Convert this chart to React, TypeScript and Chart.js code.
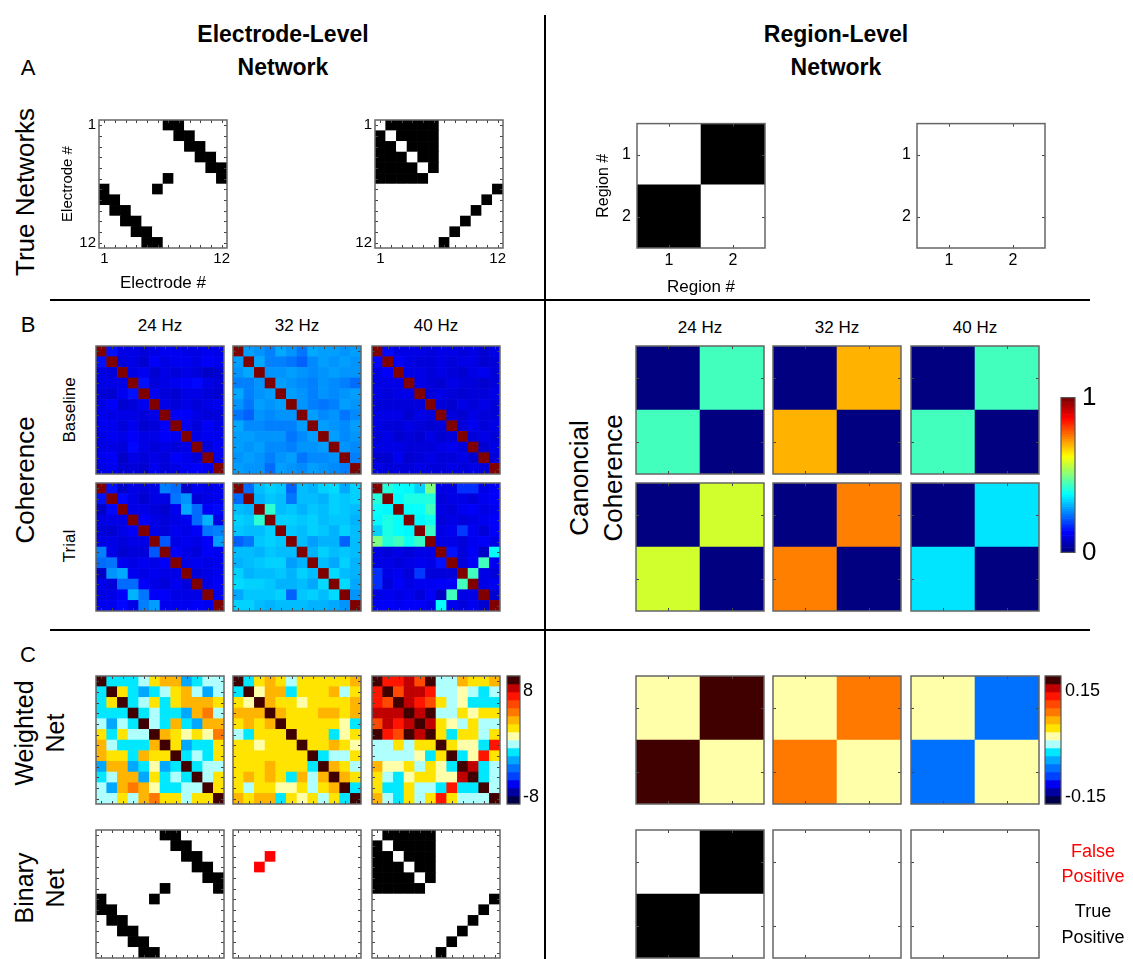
import React, { useEffect, useRef } from "react";
import { Chart, registerables } from "chart.js";

Chart.register(...registerables);

const FONT = '"Liberation Sans", Arial, Helvetica, sans-serif';
Chart.defaults.font.family = FONT;
Chart.defaults.color = "#000";

// ================= DATA =================
const FREQ_LABELS = ["24 Hz", "32 Hz", "40 Hz"];
const ELECTRODE_TICKS = [{ v: 0, t: "1" }, { v: 11, t: "12" }];
const REGION_TICKS = [{ v: 0, t: "1" }, { v: 1, t: "2" }];

// True electrode-level networks (1 = edge)
const TRUE_NET_1 = [
  [0, 0, 0, 0, 0, 0, 1, 1, 0, 0, 0, 0],
  [0, 0, 0, 0, 0, 0, 0, 1, 1, 0, 0, 0],
  [0, 0, 0, 0, 0, 0, 0, 0, 1, 1, 0, 0],
  [0, 0, 0, 0, 0, 0, 0, 0, 0, 1, 1, 0],
  [0, 0, 0, 0, 0, 0, 0, 0, 0, 0, 1, 1],
  [0, 0, 0, 0, 0, 0, 1, 0, 0, 0, 0, 1],
  [1, 0, 0, 0, 0, 1, 0, 0, 0, 0, 0, 0],
  [1, 1, 0, 0, 0, 0, 0, 0, 0, 0, 0, 0],
  [0, 1, 1, 0, 0, 0, 0, 0, 0, 0, 0, 0],
  [0, 0, 1, 1, 0, 0, 0, 0, 0, 0, 0, 0],
  [0, 0, 0, 1, 1, 0, 0, 0, 0, 0, 0, 0],
  [0, 0, 0, 0, 1, 1, 0, 0, 0, 0, 0, 0],
];
const TRUE_NET_2 = [
  [0, 1, 1, 1, 1, 1, 0, 0, 0, 0, 0, 0],
  [1, 0, 1, 1, 1, 1, 0, 0, 0, 0, 0, 0],
  [1, 1, 0, 1, 1, 1, 0, 0, 0, 0, 0, 0],
  [1, 1, 1, 0, 1, 1, 0, 0, 0, 0, 0, 0],
  [1, 1, 1, 1, 0, 1, 0, 0, 0, 0, 0, 0],
  [1, 1, 1, 1, 1, 0, 0, 0, 0, 0, 0, 0],
  [0, 0, 0, 0, 0, 0, 0, 0, 0, 0, 0, 1],
  [0, 0, 0, 0, 0, 0, 0, 0, 0, 0, 1, 0],
  [0, 0, 0, 0, 0, 0, 0, 0, 0, 1, 0, 0],
  [0, 0, 0, 0, 0, 0, 0, 0, 1, 0, 0, 0],
  [0, 0, 0, 0, 0, 0, 0, 1, 0, 0, 0, 0],
  [0, 0, 0, 0, 0, 0, 1, 0, 0, 0, 0, 0],
];
const TRUE_REGION_1 = [[0, 1], [1, 0]];
const TRUE_REGION_2 = [[0, 0], [0, 0]];

// Binary nets (1 = true positive, 2 = false positive)
const BIN_NET_24 = TRUE_NET_1.map((r) => r.slice());
const BIN_NET_32 = [
  [0, 0, 0, 0, 0, 0, 0, 0, 0, 0, 0, 0],
  [0, 0, 0, 0, 0, 0, 0, 0, 0, 0, 0, 0],
  [0, 0, 0, 2, 0, 0, 0, 0, 0, 0, 0, 0],
  [0, 0, 2, 0, 0, 0, 0, 0, 0, 0, 0, 0],
  [0, 0, 0, 0, 0, 0, 0, 0, 0, 0, 0, 0],
  [0, 0, 0, 0, 0, 0, 0, 0, 0, 0, 0, 0],
  [0, 0, 0, 0, 0, 0, 0, 0, 0, 0, 0, 0],
  [0, 0, 0, 0, 0, 0, 0, 0, 0, 0, 0, 0],
  [0, 0, 0, 0, 0, 0, 0, 0, 0, 0, 0, 0],
  [0, 0, 0, 0, 0, 0, 0, 0, 0, 0, 0, 0],
  [0, 0, 0, 0, 0, 0, 0, 0, 0, 0, 0, 0],
  [0, 0, 0, 0, 0, 0, 0, 0, 0, 0, 0, 0],
];
const BIN_NET_40 = TRUE_NET_2.map((r) => r.slice());
const BIN_REGION = [[[0, 1], [1, 0]], [[0, 0], [0, 0]], [[0, 0], [0, 0]]];

// Coherence (upper triangles, row i lists columns i+1..11); diagonal = 1
const COH_BASE_24 = [
  [0.14, 0.1, 0.1, 0.09, 0.1, 0.11, 0.11, 0.1, 0.1, 0.11, 0.1],
  [0.09, 0.1, 0.08, 0.12, 0.1, 0.11, 0.11, 0.1, 0.12, 0.11],
  [0.1, 0.11, 0.08, 0.1, 0.09, 0.1, 0.09, 0.07, 0.08],
  [0.14, 0.09, 0.1, 0.11, 0.12, 0.13, 0.1, 0.09],
  [0.11, 0.09, 0.08, 0.1, 0.1, 0.09, 0.08],
  [0.1, 0.09, 0.1, 0.09, 0.1, 0.11],
  [0.12, 0.12, 0.1, 0.09, 0.09],
  [0.11, 0.09, 0.12, 0.1],
  [0.1, 0.11, 0.11],
  [0.09, 0.12],
  [0.11],
];
const COH_BASE_32 = [
  [0.28, 0.27, 0.25, 0.29, 0.27, 0.24, 0.29, 0.28, 0.28, 0.27, 0.28],
  [0.29, 0.25, 0.25, 0.24, 0.22, 0.26, 0.28, 0.27, 0.28, 0.27],
  [0.27, 0.27, 0.28, 0.27, 0.26, 0.27, 0.28, 0.27, 0.27],
  [0.28, 0.27, 0.26, 0.25, 0.27, 0.26, 0.25, 0.23],
  [0.28, 0.27, 0.25, 0.27, 0.26, 0.27, 0.28],
  [0.27, 0.25, 0.24, 0.25, 0.28, 0.27],
  [0.28, 0.26, 0.27, 0.24, 0.26],
  [0.28, 0.27, 0.26, 0.28],
  [0.28, 0.26, 0.27],
  [0.27, 0.26],
  [0.25],
];
const COH_BASE_40 = [
  [0.13, 0.1, 0.1, 0.1, 0.09, 0.1, 0.1, 0.09, 0.1, 0.08, 0.1],
  [0.12, 0.1, 0.09, 0.09, 0.1, 0.09, 0.1, 0.1, 0.08, 0.09],
  [0.1, 0.1, 0.09, 0.1, 0.09, 0.08, 0.1, 0.11, 0.09],
  [0.1, 0.09, 0.08, 0.1, 0.09, 0.09, 0.08, 0.09],
  [0.09, 0.1, 0.09, 0.08, 0.09, 0.09, 0.1],
  [0.09, 0.08, 0.1, 0.09, 0.1, 0.09],
  [0.09, 0.08, 0.1, 0.09, 0.09],
  [0.09, 0.11, 0.09, 0.1],
  [0.09, 0.1, 0.09],
  [0.08, 0.1],
  [0.09],
];
const COH_TRIAL_24 = [
  [0.14, 0.07, 0.1, 0.09, 0.1, 0.25, 0.23, 0.07, 0.11, 0.1, 0.11],
  [0.13, 0.1, 0.08, 0.1, 0.1, 0.24, 0.27, 0.09, 0.1, 0.11],
  [0.1, 0.1, 0.09, 0.08, 0.11, 0.29, 0.23, 0.12, 0.13],
  [0.12, 0.1, 0.09, 0.1, 0.11, 0.23, 0.3, 0.1],
  [0.1, 0.09, 0.11, 0.1, 0.12, 0.24, 0.25],
  [0.21, 0.1, 0.11, 0.1, 0.12, 0.28],
  [0.12, 0.1, 0.09, 0.12, 0.11],
  [0.1, 0.11, 0.1, 0.11],
  [0.09, 0.1, 0.11],
  [0.1, 0.12],
  [0.11],
];
const COH_TRIAL_32 = [
  [0.23, 0.31, 0.33, 0.32, 0.22, 0.31, 0.3, 0.33, 0.34, 0.29, 0.33],
  [0.3, 0.32, 0.31, 0.24, 0.31, 0.31, 0.3, 0.33, 0.32, 0.33],
  [0.42, 0.31, 0.32, 0.3, 0.32, 0.31, 0.33, 0.32, 0.31],
  [0.33, 0.33, 0.32, 0.33, 0.31, 0.32, 0.32, 0.3],
  [0.32, 0.31, 0.33, 0.32, 0.3, 0.33, 0.31],
  [0.31, 0.28, 0.3, 0.3, 0.22, 0.31],
  [0.3, 0.33, 0.31, 0.32, 0.31],
  [0.31, 0.29, 0.33, 0.3],
  [0.34, 0.31, 0.3],
  [0.34, 0.29],
  [0.27],
];
const COH_TRIAL_40 = [
  [0.41, 0.38, 0.37, 0.33, 0.5, 0.1, 0.1, 0.17, 0.17, 0.1, 0.12],
  [0.37, 0.4, 0.4, 0.41, 0.09, 0.1, 0.1, 0.09, 0.11, 0.12],
  [0.38, 0.38, 0.44, 0.1, 0.09, 0.11, 0.12, 0.1, 0.11],
  [0.37, 0.39, 0.09, 0.1, 0.09, 0.1, 0.11, 0.12],
  [0.43, 0.1, 0.11, 0.18, 0.11, 0.09, 0.12],
  [0.1, 0.1, 0.09, 0.11, 0.12, 0.1],
  [0.14, 0.09, 0.12, 0.07, 0.38],
  [0.09, 0.12, 0.44, 0.11],
  [0.44, 0.1, 0.09],
  [0.1, 0.11],
  [0.08],
];

// Weighted electrode nets (upper triangles), diagonal = 8
const W_NET_24 = [
  [-1.5, -1.5, -1.5, -0.5, 1.5, 2.5, 2.5, -2.5, -1.5, -0.5, -0.5],
  [1.5, -1.5, -2.5, -1.5, -0.5, 1.5, 2.5, -0.5, -2.5, -0.5],
  [-1.5, -0.5, 1.5, -1.5, 1.5, 2.5, 2.5, 2.2, 1.5],
  [-1.5, -0.5, -1.5, -1.5, -2.5, 2.5, 3.5, -0.5],
  [-0.5, -1.5, 2.2, -1.5, -2.5, 2.5, 2.5],
  [2.5, 1.5, 0.5, 1.5, 0.5, 3.5],
  [1.5, -2.5, -1.5, -1.5, 1.5],
  [-1.5, -0.5, -1.5, 1.5],
  [-1.5, -0.5, -0.5],
  [-0.5, 1.5],
  [1.5],
];
const W_NET_32 = [
  [-1.5, 1.5, 2.2, 1.5, -0.5, 1.5, 1.5, 1.6, 1.5, 1.5, 2.2],
  [0.5, 2.5, 2.5, -1.5, 1.5, 1.5, 1.5, 2.5, -0.5, 1.5],
  [2.5, 1.5, 1.5, 0.5, 1.5, 1.5, 1.5, 1.5, 2.2],
  [2.5, 1.5, 1.5, 1.5, 2.2, 2.5, 1.5, 2.2],
  [1.5, 1.5, 1.5, 1.5, 1.5, 0.5, -1.5],
  [1.5, 1.5, 1.5, -1.5, 0.5, 1.5],
  [1.5, 1.5, 2.5, 1.5, 0.5],
  [-1.5, -0.5, -0.5, 1.5],
  [2.5, 1.5, -0.5],
  [2.5, 1.5],
  [-1.5],
];
const W_NET_40 = [
  [5.5, 5.5, 6.5, 4.5, 7.5, -0.5, -0.5, 2.5, 1.5, 1.5, 2.5],
  [4.5, 6.5, 6.5, 5.5, -0.5, -0.5, 0.5, -0.5, -1.5, -0.5],
  [6.5, 5.5, 4.5, 1.5, -0.5, 0.5, -1.5, -1.5, -1.5],
  [6.5, 7.5, -0.5, -0.5, 1.5, 0.5, 1.5, 1.5],
  [6.5, 1.5, 0.5, -0.5, 1.5, -0.5, -0.5],
  [1.5, -1.5, 1.5, 1.5, -0.5, 1.5],
  [1.5, 0.5, 0.5, -1.5, 5.5],
  [-1.5, 0.5, 5.5, 1.5],
  [6.5, -1.5, -0.5],
  [-1.5, -0.5],
  [-0.5],
];

// Region-level values (off-diagonal) for 24/32/40 Hz
const REG_COH_BASE = [0.44, 0.7, 0.44];
const REG_COH_TRIAL = [0.58, 0.75, 0.35];
const REG_WEIGHTED = [0.15, 0.065, -0.065];

// colour-bar ticks / ranges
const COH_RANGE = [0, 1];
const COH_CB_TICKS = [{ v: 0, t: "0" }, { v: 1, t: "1" }];
const W_EL_RANGE = [-9.1, 10.3];
const W_EL_CB_TICKS = [{ v: -8, t: "-8" }, { v: 8, t: "8" }];
const W_REG_RANGE = [-0.171, 0.193];
const W_REG_CB_TICKS = [{ v: -0.15, t: "-0.15" }, { v: 0.15, t: "0.15" }];

// ================= COLOUR MAPS =================
const WEIGHT_CMAP = [
  "#00004a", "#0000a0", "#0000f0", "#0040ff", "#0070ff", "#00a8ff", "#00e8ff", "#b0ffff",
  "#ffffaa", "#ffe400", "#ffb400", "#ff7800", "#ff4800", "#ff1400", "#c00000", "#400000",
];
const clamp01 = (x: number) => Math.max(0, Math.min(1, x));
function jet(v: number): string {
  const t = clamp01(v);
  const r = clamp01(1.5 - Math.abs(4 * t - 3));
  const g = clamp01(1.5 - Math.abs(4 * t - 2));
  const b = clamp01(1.5 - Math.abs(4 * t - 1));
  return `rgb(${Math.round(r * 255)},${Math.round(g * 255)},${Math.round(b * 255)})`;
}
const JET_BANDS = Array.from({ length: 64 }, (_, i) => jet(i / 63));
function weightColor(vmin: number, vmax: number) {
  return (v: number) => {
    let k = Math.floor(((v - vmin) / (vmax - vmin)) * 16);
    k = Math.max(0, Math.min(15, k));
    return WEIGHT_CMAP[k];
  };
}
const elWeightColor = weightColor(-8, 8);
const regWeightColor = weightColor(-0.15, 0.15);
const binColor = (v: number) => (v === 2 ? "#ff0000" : v === 1 ? "#000000" : "#ffffff");

function symmetric(upper: number[][], diag: number): number[][] {
  const n = upper.length + 1;
  const m = Array.from({ length: n }, () => new Array(n).fill(diag));
  for (let i = 0; i < upper.length; i++)
    for (let k = 0; k < upper[i].length; k++) {
      const j = i + 1 + k;
      m[i][j] = upper[i][k];
      m[j][i] = upper[i][k];
    }
  return m;
}
const region = (off: number, diag: number) => [[diag, off], [off, diag]];

// ================= COMPONENTS =================
type Tick = { v: number; t: string };
type HeatProps = {
  left: number;
  top: number;
  size?: number;
  matrix: number[][];
  color: (v: number) => string;
  ticks?: Tick[];
  tickFont?: number;
  tickPadX?: number;
  tickPadY?: number;
  xTitle?: string;
  yTitle?: string;
  xTitleFont?: number;
  yTitleFont?: number;
  padL?: number;
  padB?: number;
};

function Heat(p: HeatProps) {
  const ref = useRef<HTMLCanvasElement | null>(null);
  const size = p.size ?? 128;
  const padL = p.padL ?? 6;
  const padB = p.padB ?? 6;
  const padT = 12;
  const padR = 12;
  const W = size + padL + padR;
  const H = size + padT + padB;
  useEffect(() => {
    const m = p.matrix;
    const n = m.length;
    const pts: { x: number; y: number }[] = [];
    const cols: string[] = [];
    for (let i = 0; i < n; i++)
      for (let j = 0; j < n; j++) {
        pts.push({ x: j, y: i });
        cols.push(p.color(m[i][j]));
      }
    const ticks = p.ticks;
    const labelOf = (v: number) => {
      const t = ticks ? ticks.find((tt) => tt.v === v) : undefined;
      return t ? t.t : "";
    };
    const radius = (ctx: any) => {
      const s = ctx.chart.scales.x;
      if (!s) return 1;
      return Math.abs(s.getPixelForValue(1) - s.getPixelForValue(0)) / Math.SQRT2 + 0.4;
    };
    const frame = {
      id: "frame",
      afterDatasetsDraw(chart: any) {
        const { ctx, chartArea: a, scales } = chart;
        ctx.save();
        ctx.strokeStyle = "#444";
        ctx.lineWidth = 1;
        const tl = 3;
        for (let k = 0; k < n; k++) {
          const x = Math.round(scales.x.getPixelForValue(k)) + 0.5;
          const y = Math.round(scales.y.getPixelForValue(k)) + 0.5;
          ctx.beginPath();
          ctx.moveTo(x, a.top);
          ctx.lineTo(x, a.top + tl);
          ctx.moveTo(x, a.bottom);
          ctx.lineTo(x, a.bottom - tl);
          ctx.moveTo(a.left, y);
          ctx.lineTo(a.left + tl, y);
          ctx.moveTo(a.right, y);
          ctx.lineTo(a.right - tl, y);
          ctx.stroke();
        }
        ctx.strokeStyle = "#666";
        ctx.lineWidth = 1.5;
        ctx.strokeRect(a.left, a.top, a.right - a.left, a.bottom - a.top);
        ctx.restore();
      },
    };
    const chart = new Chart(ref.current as HTMLCanvasElement, {
      type: "scatter",
      data: {
        datasets: [
          {
            data: pts,
            backgroundColor: cols,
            borderWidth: 0,
            pointStyle: "rect",
            pointRadius: radius,
            pointHoverRadius: radius,
          } as any,
        ],
      },
      options: {
        animation: false,
        responsive: false,
        devicePixelRatio: 1,
        events: [],
        layout: { padding: { top: padT, right: padR, left: 0, bottom: 0 } },
        plugins: { legend: { display: false }, tooltip: { enabled: false } },
        scales: {
          x: {
            type: "linear",
            position: "bottom",
            min: -0.5,
            max: n - 0.5,
            grid: { display: false, drawTicks: false },
            border: { display: false },
            ticks: {
              display: !!ticks,
              autoSkip: false,
              maxRotation: 0,
              minRotation: 0,
              padding: p.tickPadX ?? 2,
              font: { size: p.tickFont ?? 15 },
              callback: (v: any) => labelOf(Number(v)),
            },
            afterBuildTicks: (s: any) => {
              s.ticks = (ticks ?? []).map((t) => ({ value: t.v }));
            },
            title: {
              display: !!p.xTitle,
              text: p.xTitle ?? "",
              font: { size: p.xTitleFont ?? 17 },
              padding: 0,
            },
            afterFit: (s: any) => {
              s.height = padB;
            },
          },
          y: {
            type: "linear",
            position: "left",
            reverse: true,
            min: -0.5,
            max: n - 0.5,
            grid: { display: false, drawTicks: false },
            border: { display: false },
            ticks: {
              display: !!ticks,
              autoSkip: false,
              padding: p.tickPadY ?? 3,
              font: { size: p.tickFont ?? 15 },
              callback: (v: any) => labelOf(Number(v)),
            },
            afterBuildTicks: (s: any) => {
              s.ticks = (ticks ?? []).map((t) => ({ value: t.v }));
            },
            title: {
              display: !!p.yTitle,
              text: p.yTitle ?? "",
              font: { size: p.yTitleFont ?? 15 },
              padding: 0,
            },
            afterFit: (s: any) => {
              s.width = padL;
            },
          },
        },
      } as any,
      plugins: [frame],
    });
    return () => chart.destroy();
  }, []);
  return (
    <canvas
      ref={ref}
      width={W}
      height={H}
      style={{ position: "absolute", left: p.left - padL, top: p.top - padT, width: W, height: H }}
    />
  );
}

type BarProps = {
  left: number;
  top: number;
  width: number;
  height: number;
  bands: string[];
  range: number[];
  ticks: Tick[];
  fontSize: number;
  tickPad: number;
};

function ColorBar(p: BarProps) {
  const ref = useRef<HTMLCanvasElement | null>(null);
  const padL = 4,
    padT = 16,
    padB = 16,
    padR = 70;
  const W = p.width + padL + padR;
  const H = p.height + padT + padB;
  useEffect(() => {
    const labelOf = (v: number) => {
      const t = p.ticks.find((tt) => Math.abs(tt.v - v) < 1e-9);
      return t ? t.t : "";
    };
    const bandsPlugin = {
      id: "bands",
      beforeDatasetsDraw(chart: any) {
        const { ctx, chartArea: a } = chart;
        const nb = p.bands.length;
        const h = (a.bottom - a.top) / nb;
        ctx.save();
        p.bands.forEach((c, i) => {
          ctx.fillStyle = c;
          ctx.fillRect(a.left, a.bottom - (i + 1) * h - 0.3, a.right - a.left, h + 0.6);
        });
        ctx.strokeStyle = "#555";
        ctx.lineWidth = 1.2;
        ctx.strokeRect(a.left, a.top, a.right - a.left, a.bottom - a.top);
        ctx.restore();
      },
    };
    const chart = new Chart(ref.current as HTMLCanvasElement, {
      type: "scatter",
      data: { datasets: [] },
      options: {
        animation: false,
        responsive: false,
        devicePixelRatio: 1,
        events: [],
        layout: { padding: { top: padT, right: 0, left: padL, bottom: padB } },
        plugins: { legend: { display: false }, tooltip: { enabled: false } },
        scales: {
          x: { type: "linear", display: false, min: 0, max: 1 },
          y: {
            type: "linear",
            position: "right",
            min: p.range[0],
            max: p.range[1],
            grid: { display: false, drawTicks: false },
            border: { display: false },
            ticks: {
              autoSkip: false,
              padding: p.tickPad,
              font: { size: p.fontSize },
              callback: (v: any) => labelOf(Number(v)),
            },
            afterBuildTicks: (s: any) => {
              s.ticks = p.ticks.map((t) => ({ value: t.v }));
            },
            afterFit: (s: any) => {
              s.width = padR;
            },
          },
        },
      } as any,
      plugins: [bandsPlugin],
    });
    return () => chart.destroy();
  }, []);
  return (
    <canvas
      ref={ref}
      width={W}
      height={H}
      style={{ position: "absolute", left: p.left - padL, top: p.top - padT, width: W, height: H }}
    />
  );
}

function Txt(props: {
  x: number;
  y: number;
  text: string;
  size: number;
  bold?: boolean;
  rot?: boolean;
  color?: string;
  lh?: number;
}) {
  return (
    <div
      style={{
        position: "absolute",
        left: props.x,
        top: props.y,
        transform: `translate(-50%,-50%)${props.rot ? " rotate(-90deg)" : ""}`,
        fontFamily: FONT,
        fontSize: props.size,
        fontWeight: props.bold ? "bold" : "normal",
        color: props.color ?? "#000",
        whiteSpace: "pre",
        textAlign: "center",
        lineHeight: props.lh ? `${props.lh}px` : 1.15,
      }}
    >
      {props.text}
    </div>
  );
}

const Line = (p: { x: number; y: number; w: number; h: number }) => (
  <div style={{ position: "absolute", left: p.x, top: p.y, width: p.w, height: p.h, background: "#000" }} />
);

// ================= APP =================
const EL_X = [96, 233, 372];
const REG_X = [636, 773, 911];

export default function App() {
  const cohBase = [COH_BASE_24, COH_BASE_32, COH_BASE_40].map((u) => symmetric(u, 1));
  const cohTrial = [COH_TRIAL_24, COH_TRIAL_32, COH_TRIAL_40].map((u) => symmetric(u, 1));
  const wNets = [W_NET_24, W_NET_32, W_NET_40].map((u) => symmetric(u, 8));
  const binNets = [BIN_NET_24, BIN_NET_32, BIN_NET_40];
  const cohJet = (v: number) => jet((v - COH_RANGE[0]) / (COH_RANGE[1] - COH_RANGE[0]));
  return (
    <div
      style={{
        position: "absolute",
        left: 0,
        top: 0,
        width: 1133,
        height: 959,
        background: "#fff",
        overflow: "hidden",
        fontFamily: FONT,
      }}
    >
      {/* separators */}
      <Line x={544} y={15} w={2} h={944} />
      <Line x={50} y={299} w={1040} h={2} />
      <Line x={50} y={629} w={1040} h={2} />

      {/* headers */}
      <Txt x={283} y={51} text={"Electrode-Level\nNetwork"} size={23} bold lh={33} />
      <Txt x={836} y={51} text={"Region-Level\nNetwork"} size={23} bold lh={33} />
      <Txt x={28} y={68} text="A" size={22} />
      <Txt x={28} y={325} text="B" size={22} />
      <Txt x={28} y={655} text="C" size={22} />

      {/* row labels */}
      <Txt x={26} y={192} text="True Networks" size={26} rot />
      <Txt x={26} y={480} text="Coherence" size={26} rot />
      <Txt x={70} y={410} text="Baseline" size={17} rot />
      <Txt x={70} y={546} text="Trial" size={17} rot />
      <Txt x={40} y={733} text={"Weighted\nNet"} size={25} rot lh={31} />
      <Txt x={40} y={888} text={"Binary\nNet"} size={25} rot lh={31} />
      <Txt x={596} y={478} text={"Canoncial\nCoherence"} size={26} rot lh={34} />

      {/* A: true networks */}
      <Heat left={99} top={120} matrix={TRUE_NET_1} color={binColor} ticks={ELECTRODE_TICKS}
        xTitle="Electrode #" yTitle="Electrode #" padL={40} padB={46} tickFont={15} xTitleFont={17} yTitleFont={15} />
      <Heat left={375} top={120} matrix={TRUE_NET_2} color={binColor} ticks={ELECTRODE_TICKS}
        padL={30} padB={26} tickFont={15} />
      <Heat left={637} top={120} matrix={TRUE_REGION_1} color={binColor} ticks={REGION_TICKS}
        xTitle="Region #" yTitle="Region #" padL={43} padB={50} tickFont={16} tickPadY={6} tickPadX={3}
        xTitleFont={17} yTitleFont={16} />
      <Heat left={917} top={120} matrix={TRUE_REGION_2} color={binColor} ticks={REGION_TICKS}
        padL={30} padB={28} tickFont={16} tickPadY={6} tickPadX={3} />

      {/* B: coherence */}
      {FREQ_LABELS.map((f, k) => (
        <React.Fragment key={"b" + k}>
          <Txt x={EL_X[k] + 64} y={326} text={f} size={17} />
          <Txt x={REG_X[k] + 64} y={328} text={f} size={17} />
          <Heat left={EL_X[k]} top={346} matrix={cohBase[k]} color={cohJet} />
          <Heat left={EL_X[k]} top={483} matrix={cohTrial[k]} color={cohJet} />
          <Heat left={REG_X[k]} top={346} matrix={region(REG_COH_BASE[k], 0)} color={cohJet} />
          <Heat left={REG_X[k]} top={483} matrix={region(REG_COH_TRIAL[k], 0)} color={cohJet} />
        </React.Fragment>
      ))}
      <ColorBar left={1061} top={391} width={14} height={168} bands={JET_BANDS} range={COH_RANGE}
        ticks={COH_CB_TICKS} fontSize={26} tickPad={7} />

      {/* C: weighted + binary */}
      {FREQ_LABELS.map((f, k) => (
        <React.Fragment key={"c" + k}>
          <Heat left={EL_X[k]} top={676} matrix={wNets[k]} color={elWeightColor} />
          <Heat left={EL_X[k]} top={830} matrix={binNets[k]} color={binColor} />
          <Heat left={REG_X[k]} top={676} matrix={region(REG_WEIGHTED[k], 0)} color={regWeightColor} />
          <Heat left={REG_X[k]} top={830} matrix={BIN_REGION[k]} color={binColor} />
        </React.Fragment>
      ))}
      <ColorBar left={507} top={676} width={13} height={128} bands={WEIGHT_CMAP} range={W_EL_RANGE}
        ticks={W_EL_CB_TICKS} fontSize={18} tickPad={3} />
      <ColorBar left={1045} top={676} width={16} height={128} bands={WEIGHT_CMAP} range={W_REG_RANGE}
        ticks={W_REG_CB_TICKS} fontSize={18} tickPad={4} />

      <Txt x={1093} y={864} text={"False\nPositive"} size={18} color="#ff0000" lh={25} />
      <Txt x={1093} y={924} text={"True\nPositive"} size={18} lh={26} />
    </div>
  );
}
